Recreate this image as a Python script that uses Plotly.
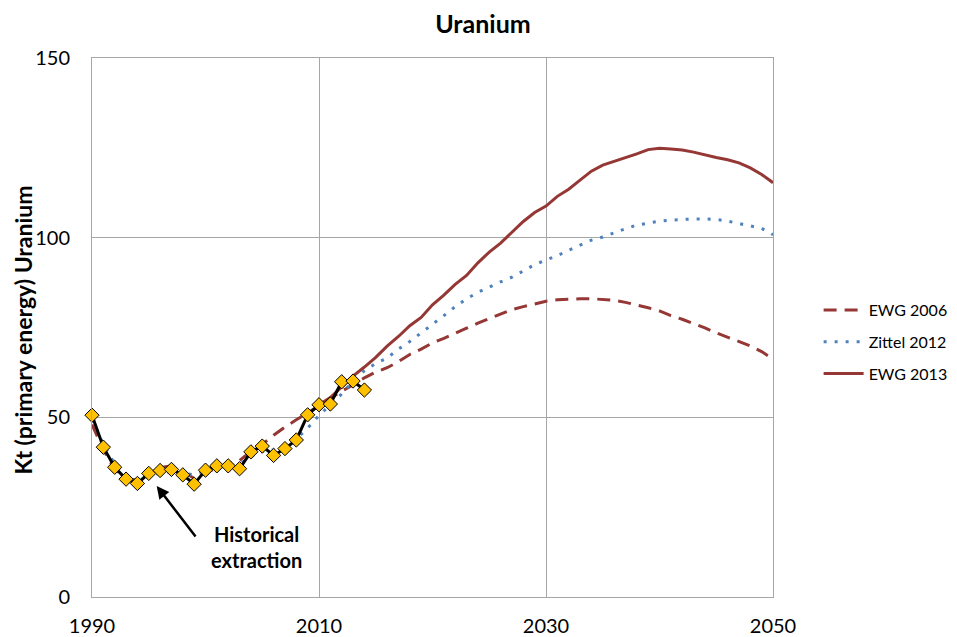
import plotly.graph_objects as go

#---DATA---
hist_years = list(range(1990, 2015))
hist_values = [50.6, 41.7, 36.1, 32.8, 31.6, 34.4, 35.2, 35.5, 34.0, 31.4,
               35.3, 36.5, 36.5, 35.7, 40.4, 42.0, 39.4, 41.3, 43.7, 50.7,
               53.5, 53.7, 59.9, 60.1, 57.6]

ewg2006_years = list(range(1990, 2051))
ewg2006_values = [48.0, 41.0, 35.5, 33.0, 32.5, 34.0, 36.0, 36.5, 35.0, 33.0,
                  34.5, 36.0, 37.0, 38.0, 40.5, 42.5, 45.0, 47.3, 49.3, 51.2,
                  53.2, 55.3, 57.3, 59.0, 61.0, 62.6, 63.8, 65.5, 67.5, 69.0,
                  70.7, 72.0, 73.5, 74.8, 76.2, 77.5, 78.9, 80.0, 80.8, 81.6,
                  82.3, 82.7, 82.9, 83.0, 83.0, 82.9, 82.6, 82.0, 81.3, 80.5,
                  79.6, 78.3, 77.3, 76.2, 74.9, 73.5, 72.3, 71.2, 69.9, 68.3,
                  66.2]

zittel_years = list(range(1990, 2051))
zittel_values = [49.5, 42.5, 37.0, 33.5, 32.5, 33.5, 34.5, 35.0, 34.5, 34.0,
                 35.0, 36.0, 36.5, 37.0, 39.0, 40.5, 41.0, 42.0, 44.0, 47.0,
                 50.5, 53.5, 56.5, 60.0, 63.0, 65.0, 66.5, 69.0, 71.1, 73.5,
                 75.8, 78.3, 80.8, 83.0, 84.8, 86.3, 87.7, 89.0, 90.8, 92.5,
                 93.8, 95.0, 96.5, 98.0, 99.3, 100.2, 101.4, 102.5, 103.5, 104.1,
                 104.6, 104.9, 105.1, 105.2, 105.2, 105.1, 104.6, 104.0, 103.4, 102.6,
                 100.8]

ewg2013_years = list(range(2010, 2051))
ewg2013_values = [53.5, 55.5, 58.5, 61.5, 64.0, 66.7, 69.8, 72.5, 75.5, 77.8,
                  81.3, 84.0, 87.0, 89.5, 93.0, 96.0, 98.5, 101.5, 104.5, 107.0,
                  108.8, 111.5, 113.5, 116.0, 118.5, 120.2, 121.2, 122.3, 123.3, 124.5,
                  124.9, 124.7, 124.4, 123.8, 123.0, 122.3, 121.7, 120.8, 119.4, 117.6,
                  115.3]

RED = '#953735'
BLUE = '#4F81BD'
GRID = '#A6A6A6'
FONT = 'Lato'

#---PLOT---
fig = go.Figure()
fig.add_trace(go.Scatter(
    x=ewg2006_years, y=ewg2006_values, name='EWG 2006', mode='lines',
    line=dict(color=RED, width=3, dash='13px,8px'),
    legendgroup='a'))
fig.add_trace(go.Scatter(
    x=zittel_years, y=zittel_values, name='Zittel 2012', mode='lines',
    line=dict(color=BLUE, width=3, dash='3px,8px'),
    legendgroup='b'))
fig.add_trace(go.Scatter(
    x=ewg2013_years, y=ewg2013_values, name='EWG 2013', mode='lines',
    line=dict(color=RED, width=3),
    legendgroup='c'))
#historical extraction on top
fig.add_trace(go.Scatter(
    x=hist_years, y=hist_values, name='Historical', mode='lines+markers',
    line=dict(color='black', width=3),
    marker=dict(symbol='diamond', size=11, color='#FFC000',
                line=dict(color='black', width=1)),
    cliponaxis=False, showlegend=False))

#---STYLE---
#page body adds 8px, so the figure is a bit smaller than the window
fig.update_layout(
    width=949, height=629,
    margin=dict(l=84, r=184, t=50, b=40, autoexpand=False),
    plot_bgcolor='white', paper_bgcolor='white',
    font=dict(family=FONT, size=20, color='black'),
    title=dict(text='<b>Uranium</b>', x=0.5005, xanchor='center',
               y=0.9746, yanchor='middle', font=dict(size=25)),
    legend=dict(x=1.067, xanchor='left', y=0.473, yanchor='middle',
                font=dict(size=16), itemwidth=40,
                traceorder='grouped', tracegroupgap=8,
                bgcolor='rgba(0,0,0,0)'),
)

fig.update_xaxes(range=[1990, 2050], tickvals=[1990, 2010, 2030, 2050],
                 showgrid=True, gridcolor=GRID, gridwidth=1,
                 showline=True, linecolor=GRID, linewidth=1, mirror=True,
                 zeroline=False, ticks='', ticklabelstandoff=11,
                 automargin=False)
fig.update_yaxes(range=[0, 150], tickvals=[0, 50, 100, 150],
                 showgrid=True, gridcolor=GRID, gridwidth=1,
                 showline=True, linecolor=GRID, linewidth=1, mirror=True,
                 zeroline=False, ticks='', ticklabelstandoff=17,
                 automargin=False)

#---ANNOTATIONS---
#y axis title
fig.add_annotation(xref='paper', yref='paper', x=-0.101, y=0.495,
                   xanchor='center', yanchor='middle',
                   text='<b>Kt (primary energy) Uranium</b>', textangle=-90,
                   showarrow=False, font=dict(size=23))
fig.add_annotation(x=1995.7, y=30.9, text='', showarrow=True,
                   ax=40, ay=52, arrowhead=2, arrowsize=1, arrowwidth=2.5,
                   arrowcolor='black')
fig.add_annotation(x=2004.45, y=13.8, text='<b>Historical<br>extraction</b>',
                   showarrow=False, font=dict(size=20))

fig.write_html("out.html")
